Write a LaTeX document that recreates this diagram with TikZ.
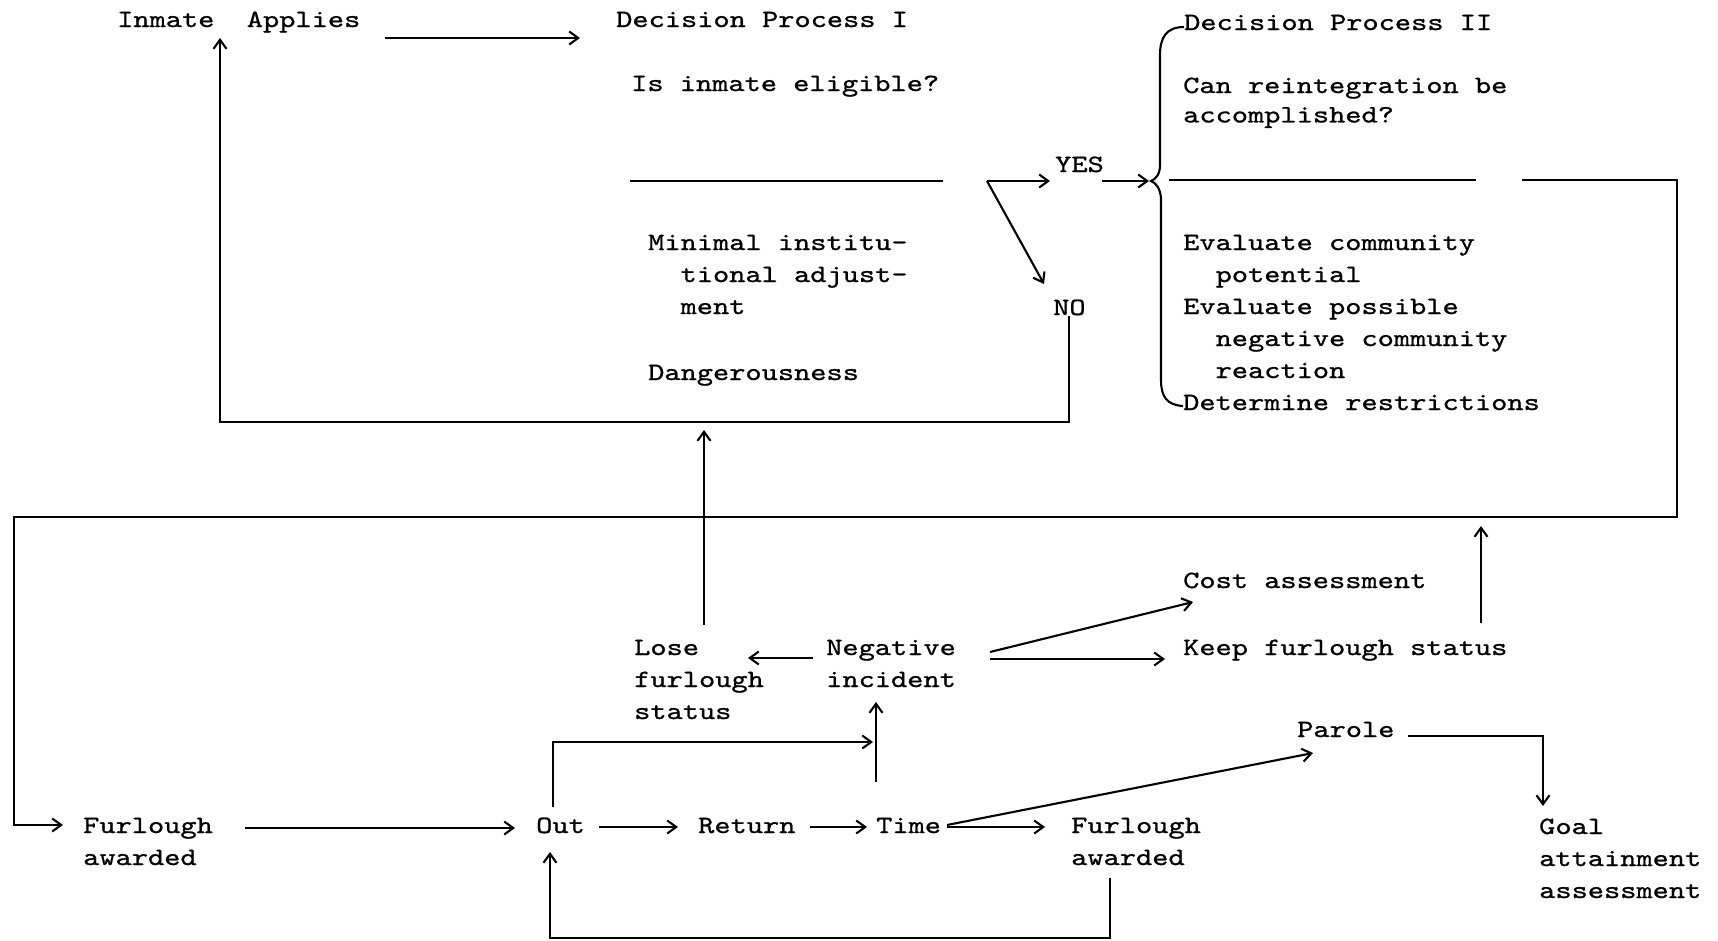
\documentclass[tikz,border=0pt]{standalone}
\usepackage{fontspec}
\newfontfamily\tw{lmmono10-regular.otf}[FakeStretch=1.24,FakeBold=0.9]
\usetikzlibrary{arrows.meta}
\newcommand\ind{\phantom{xx}}
\newcommand\ml[1]{\begin{tabular}[t]{@{}l@{}}#1\end{tabular}}
\tikzset{
  txt/.style={font=\tw\fontsize{24.9}{32}\selectfont, inner sep=0pt, anchor=base west},
  ln/.style={line width=2.1pt},
  arr/.style={ln, -{Straight Barb[length=9pt,width=13pt]}},
}
\begin{document}
\begin{tikzpicture}[x=1pt,y=-1pt]
\fill[white] (0,0) rectangle (1718,940);
\useasboundingbox (0,0) rectangle (1718,940);
% nodes
\node[txt] (applies) at (117,27) {Inmate~~Applies};
\node[txt] (dp1) at (616,27) {Decision Process I};
\node[txt] (elig) at (631,91) {Is inmate eligible?};
\node[txt] (crit) at (648,250) {\ml{Minimal institu-\\\ind tional adjust-\\\ind ment}};
\node[txt] (danger) at (648,380) {Dangerousness};
\node[txt] (yes) at (1055,172) {YES};
\node[txt] (no) at (1053,315) {NO};
\node[txt] (dp2) at (1184,30) {Decision Process II};
\node[txt] (reint) at (1183,93) {\renewcommand\arraystretch{0.92}\ml{Can reintegration be\\accomplished?}};
\node[txt] (eval) at (1183,250) {\ml{Evaluate community\\\ind potential\\Evaluate possible\\\ind negative community\\\ind reaction\\Determine restrictions}};
\node[txt] (furl1) at (83,833) {\ml{Furlough\\awarded}};
\node[txt] (out) at (536,833) {Out};
\node[txt] (ret) at (698,833) {Return};
\node[txt] (time) at (876,833) {Time};
\node[txt] (furl2) at (1071,833) {\ml{Furlough\\awarded}};
\node[txt] (lose) at (634,655) {\ml{Lose\\furlough\\status}};
\node[txt] (neg) at (826,655) {\ml{Negative\\incident}};
\node[txt] (cost) at (1183,588) {Cost assessment};
\node[txt] (keep) at (1183,655) {Keep furlough status};
\node[txt] (parole) at (1297,737) {Parole};
\node[txt] (goal) at (1539,834) {\ml{Goal\\attainment\\assessment}};
% coordinates
\coordinate (fork) at (987,181);
\coordinate (bl) at (220,422);
\coordinate (applyin) at (220,38);
\coordinate (bracetip) at (1149,181);
\coordinate (dp2out) at (1522,180);
\coordinate (rtop) at (1677,180);
\coordinate (lbot) at (14,517);
% separators
\draw[ln] (630,181) -- (943,181);
\draw[ln] (1169,180) -- (1476,180);
% brace
\draw[ln] (1184,27) .. controls (1166,27) and (1160,38) .. (1160,55) -- (1160,165)
  .. controls (1160,174) and (1156,179) .. (1151,181)
  .. controls (1156,183) and (1160,188) .. (1161,198) -- (1161,380)
  .. controls (1161,397) and (1167,405) .. (1183,406);
% connectors
\draw[arr] ([shift={(268,11)}]applies.base west) -- ([shift={(-36,11)}]dp1.base west);
\draw[arr] ([shift={(16,1)}]no.base west) |- (bl) -- (applyin);
\draw[arr] (fork) -- ([shift={(-5,9)}]yes.base west);
\draw[arr] (fork) -- ([shift={(-9,-31)}]no.base west);
\draw[arr] ([shift={(47,9)}]yes.base west) -- (bracetip);
\draw[arr] (dp2out) -- (rtop) |- (lbot) |- ([shift={(-20,-8)}]furl1.base west);
\draw[arr] ([shift={(298,-32)}]keep.base west) -- ++(0,-97);
\draw[arr] ([shift={(70,-30)}]lose.base west) -- ++(0,-195);
\draw[arr] ([shift={(-13,3)}]neg.base west) -- ([shift={(114,3)}]lose.base west);
\draw[arr] ([shift={(164,-3)}]neg.base west) -- ([shift={(10,14)}]cost.base west);
\draw[arr] ([shift={(164,4)}]neg.base west) -- ([shift={(-18,4)}]keep.base west);
\draw[arr] ([shift={(0,-51)}]time.base west) -- ([shift={(50,47)}]neg.base west);
\draw[arr] ([shift={(17,-26)}]out.base west) |- ([shift={(-3,-91)}]time.base west);
\draw[arr] ([shift={(63,-6)}]out.base west) -- ([shift={(-20,-6)}]ret.base west);
\draw[arr] ([shift={(112,-6)}]ret.base west) -- ([shift={(-9,-6)}]time.base west);
\draw[arr] ([shift={(71,-6)}]time.base west) -- ([shift={(-26,-6)}]furl2.base west);
\draw[arr] ([shift={(71,-8)}]time.base west) -- ([shift={(16,16)}]parole.base west);
\draw[arr] ([shift={(39,45)}]furl2.base west) -- ++(0,60) -| ([shift={(14,19)}]out.base west);
\draw[arr] ([shift={(111,-1)}]parole.base west) -| ([shift={(4,-28)}]goal.base west);
\draw[arr] ([shift={(162,-5)}]furl1.base west) -- ([shift={(-21,-5)}]out.base west);
\end{tikzpicture}
\end{document}
